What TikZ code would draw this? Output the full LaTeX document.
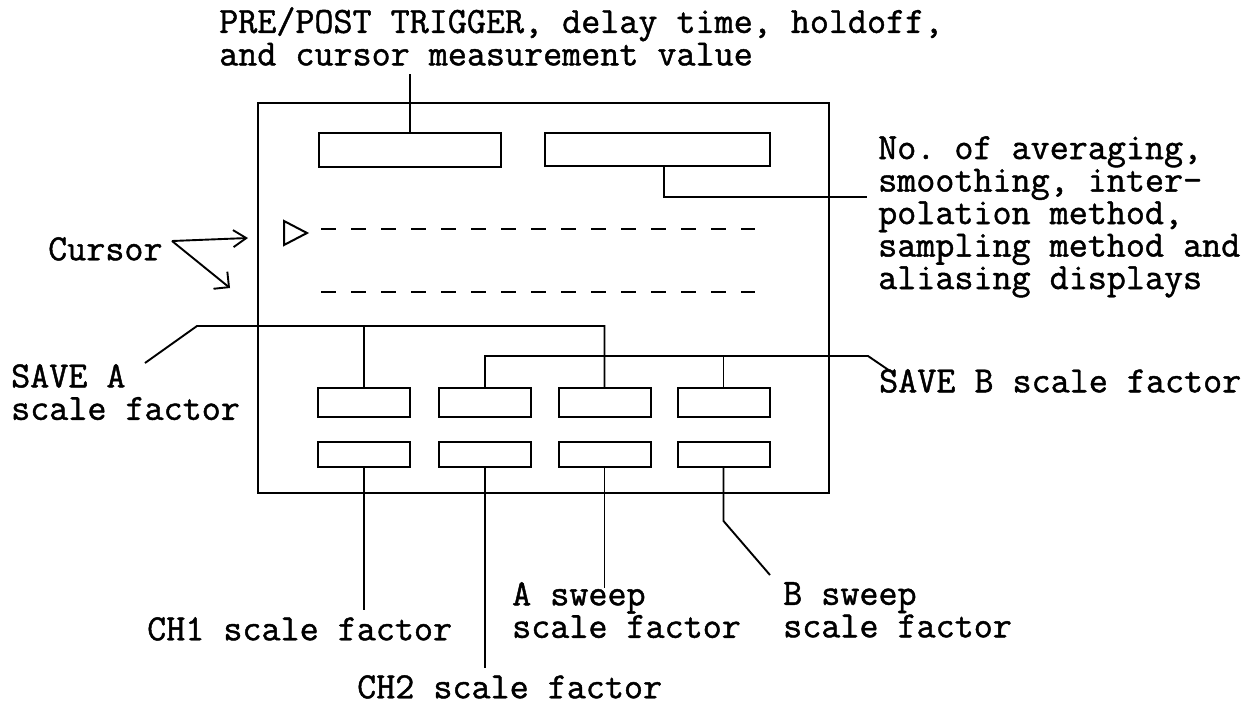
\documentclass[tikz,border=0pt]{standalone}
\usepackage{fontspec}
\setmonofont{Latin Modern Mono}[FakeBold=1.2]
\usetikzlibrary{arrows.meta}
\begin{document}
\begin{tikzpicture}[x=1pt,y=-1pt,
  lbl/.style={font=\ttfamily\fontsize{37}{32.5}\selectfont, inner sep=0pt, anchor=north west, align=left},
  screen/.style={draw, line width=2.3pt, inner sep=0pt},
  box/.style={draw, line width=2pt, inner sep=0pt},
  lead/.style={line width=1.9pt, line join=miter},
  cursorline/.style={line width=2.3pt, dash pattern=on 15pt off 15pt},
  upbar/.style={-{Straight Barb[length=13pt,width=17pt]}, line width=1.9pt},
  lowbar/.style={-{Straight Barb[length=11pt,width=22pt]}, line width=1.9pt}
]
\useasboundingbox (0,0) rectangle (1256,705);
\fill[white] (0,0) rectangle (1256,705);

% screen frame
\node[screen, minimum width=571pt, minimum height=390pt] (scr) at (543.5,298) {};

% top readout boxes
\node[box, minimum width=182pt, minimum height=34pt] (tl) at (410,150) {};
\node[box, minimum width=225pt, minimum height=33pt] (tr) at (657.5,149.5) {};

% scale factor boxes
\foreach \n/\x in {1/364,2/485,3/604.5,4/723.5}{
  \node[box, minimum width=92pt, minimum height=29pt] (u\n) at (\x,402.5) {};
  \node[box, minimum width=92pt, minimum height=25pt] (d\n) at (\x,454.5) {};
}

% cursor marker and cursor lines
\draw[line width=2pt, line join=miter] (284,221) -- (307,233) -- (284,245) -- cycle;
\draw[cursorline] (321,229) -- (755,229);
\draw[cursorline] (321,292) -- (755,292);

% labels
\node[lbl] (toplbl) at (219,7) {PRE/POST TRIGGER, delay time, holdoff,\\and cursor measurement value};
\node[lbl] (rightlbl) at (878,136) {No. of averaging,\\smoothing, inter-\\polation method,\\sampling method and\\aliasing displays};
\node[lbl] (cur) at (48,237) {Cursor};
\node[lbl] (savea) at (11,364) {SAVE A\\scale factor};
\node[lbl] (saveb) at (879,369) {SAVE B scale factor};
\node[lbl] (ch1) at (147,617) {CH1 scale factor};
\node[lbl] (ch2) at (357,675) {CH2 scale factor};
\node[lbl] (asw) at (512,582) {A sweep\\scale factor};
\node[lbl] (bsw) at (783,582) {B sweep\\scale factor};

% connector end points
\coordinate (tle) at (410,74);
\coordinate (trx) at (664,0);
\coordinate (tre) at (867,197);
\coordinate (cv) at (172,241);
\coordinate (cua) at (248,238);
\coordinate (cub) at (230,288);
\coordinate (sae) at (145,363);
\coordinate (sak) at (197,326);
\coordinate (sbe) at (890,371);
\coordinate (sbk) at (868,356);
\coordinate (c1e) at (362,610);
\coordinate (c2e) at (484,668);
\coordinate (ase) at (604,588);
\coordinate (bsk) at (724,521);
\coordinate (bse) at (770,575);

% top leaders
\draw[lead] (tl.north) -- (tle);
\draw[lead] (tr.south -| trx) -- (trx |- tre) -- (tre);

% cursor arrows
\draw[upbar] (cv) -- (cua);
\draw[lowbar] (cv) -- (cub);

% SAVE A leader
\draw[lead] (sae) -- (sak) -- (sak -| u3.north) -- (u3.north);
\draw[lead] (sak -| u1.north) -- (u1.north);

% SAVE B leader
\draw[lead] (sbe) -- (sbk) -- (sbk -| u2.north) -- (u2.north);
\draw[lead] (sbk -| u4.north) -- (u4.north);

% bottom leaders
\draw[lead] (d1.south) -- (d1.south |- c1e);
\draw[lead] (d2.south) -- (d2.south |- c2e);
\draw[lead] (d3.south) -- (d3.south |- ase);
\draw[lead] (d4.south) -- (d4.south |- bsk) -- (bse);
\end{tikzpicture}
\end{document}
